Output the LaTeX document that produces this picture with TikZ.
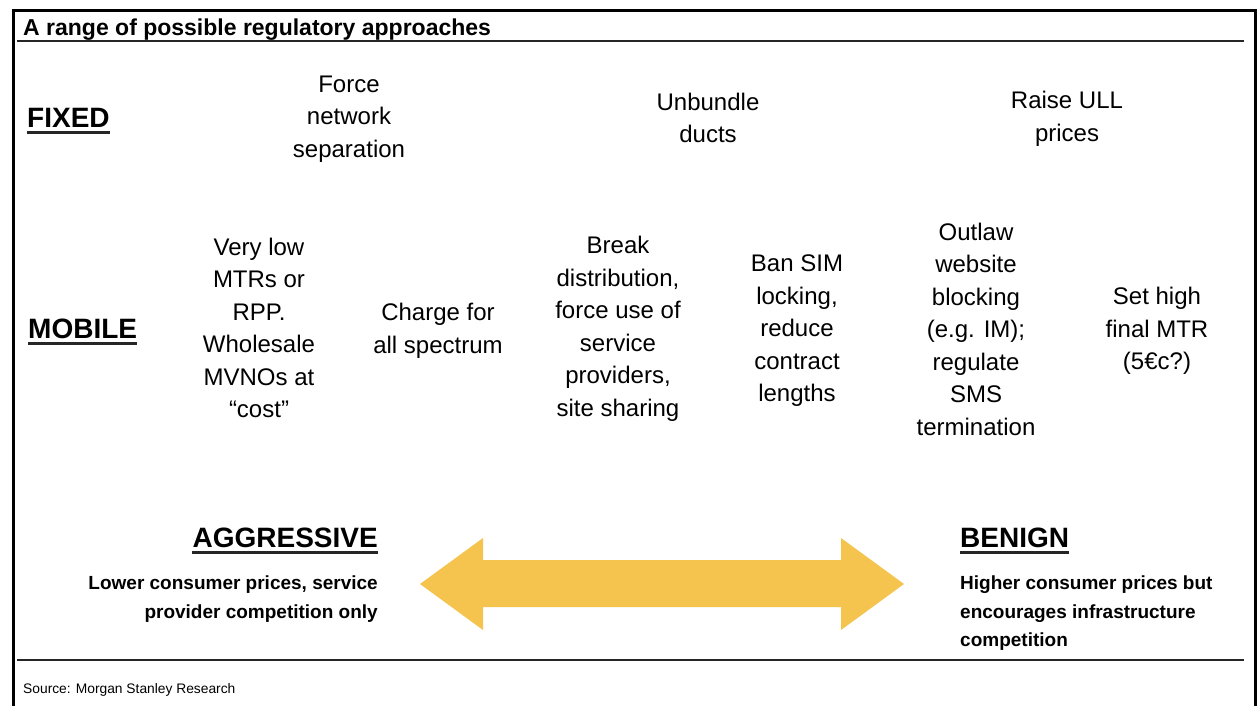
\documentclass[tikz,border=0pt]{standalone}
\usepackage{fontspec}
\setmainfont{Liberation Sans}
\definecolor{arrowgold}{RGB}{245,196,78}
\begin{document}
\begin{tikzpicture}[x=1pt,y=-1pt,
  item/.style={align=center,inner sep=0pt,font=\fontsize{24}{32.5}\selectfont},
  rowlabel/.style={anchor=west,inner sep=0pt,font=\fontsize{28}{32}\selectfont\bfseries},
  pole/.style={inner sep=0pt,font=\fontsize{28}{32}\selectfont\bfseries},
  polenote/.style={inner sep=0pt,font=\fontsize{19}{28.5}\selectfont\bfseries},
  frame/.style={line width=3pt,black},
  rule/.style={line width=2pt,black!85},
  uline/.style={line width=2.5pt,black!85}]
\useasboundingbox (0,0) rectangle (1259,706);
\fill[white] (0,0) rectangle (1259,706);

% outer frame and rules
\coordinate (ftl) at (13.5,11);
\coordinate (ftr) at (1255.5,11);
\coordinate (fbl) at (13.5,706);
\coordinate (fbr) at (1255.5,706);
\draw[frame] (fbl) -- (ftl) -- (ftr) -- (fbr);
\coordinate (t1) at (17,41);
\coordinate (t2) at (1244,41);
\draw[rule] (t1) -- (t2);
\coordinate (b1) at (17,660);
\coordinate (b2) at (1244,660);
\draw[rule] (b1) -- (b2);

% heading and source
\node[anchor=west,inner sep=0pt,font=\fontsize{23}{26}\selectfont\bfseries] (title) at (23,30) {A range of possible regulatory approaches};
\node[anchor=west,inner sep=0pt,font=\fontsize{13.8}{16}\selectfont] (source) at (23,690) {Source: Morgan Stanley Research};

% row labels
\node[rowlabel] (fixed) at (27,118) {FIXED};
\draw[uline] ([yshift=-5pt]fixed.base west) -- ([yshift=-5pt]fixed.base east);
\node[rowlabel] (mobile) at (28,329) {MOBILE};
\draw[uline] ([yshift=-5pt]mobile.base west) -- ([yshift=-5pt]mobile.base east);

% fixed-line measures
\node[item] (sep) at (349,119) {Force\\network\\separation};
\node[item] (ducts) at (708,118) {Unbundle\\ducts};
\node[item] (ull) at (1067,119) {Raise ULL\\prices};

% mobile measures
\node[item] (mtr) at (259,328) {Very low\\MTRs or\\RPP.\\Wholesale\\MVNOs at\\“cost”};
\node[item] (spec) at (438,331) {Charge for\\all spectrum};
\node[item] (dist) at (618,329) {Break\\distribution,\\force use of\\service\\providers,\\site sharing};
\node[item] (sim) at (797,331) {Ban SIM\\locking,\\reduce\\contract\\lengths};
\node[item] (web) at (976,329) {Outlaw\\website\\blocking\\(e.g. IM);\\regulate\\SMS\\termination};
\node[item] (final) at (1157,331) {Set high\\final MTR\\(5€c?)};

% spectrum arrow
\coordinate (al) at (420,584);
\coordinate (ar) at (904,584);
\fill[arrowgold] (al) -- (483,538) -- (483,560) -- (841,560) -- (841,538)
  -- (ar) -- (841,630) -- (841,607) -- (483,607) -- (483,630) -- cycle;

% ends of the spectrum
\node[pole,anchor=east] (aggr) at (378,538) {AGGRESSIVE};
\draw[uline] ([yshift=-5pt]aggr.base west) -- ([yshift=-5pt]aggr.base east);
\node[polenote,anchor=north east,align=right] (aggrnote) at (378,576) {Lower consumer prices, service\\provider competition only};
\node[pole,anchor=west] (benign) at (960,538) {BENIGN};
\draw[uline] ([yshift=-5pt]benign.base west) -- ([yshift=-5pt]benign.base east);
\node[polenote,anchor=north west,align=left] (benignnote) at (960,576) {Higher consumer prices but\\encourages infrastructure\\competition};
\end{tikzpicture}
\end{document}
